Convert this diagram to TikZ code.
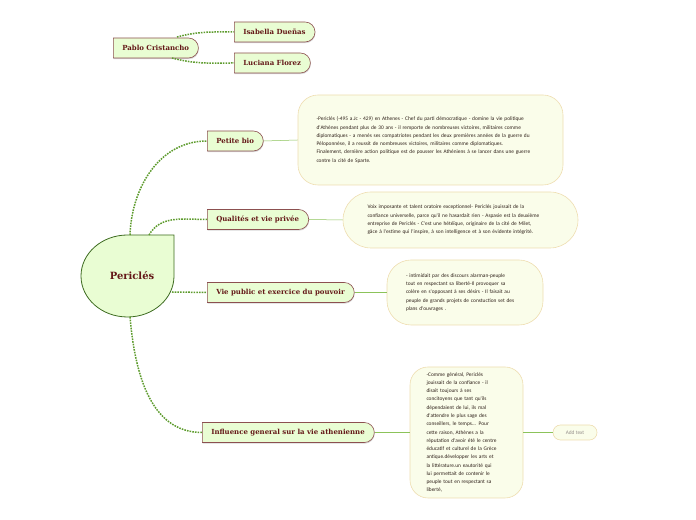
\documentclass[tikz,border=0pt]{standalone}
\usepackage{fontspec}
\setmainfont{DejaVu Serif}
\newfontfamily\notefont{Carlito}
\usetikzlibrary{positioning,shapes.misc,shadows}
\definecolor{topicfill}{HTML}{E9FDD3}
\definecolor{topicline}{HTML}{8C5050}
\definecolor{topictext}{HTML}{641818}
\definecolor{centreline}{HTML}{3D6B20}
\definecolor{notefill}{HTML}{FAFDEA}
\definecolor{noteline}{HTML}{EEDDB0}
\definecolor{notetext}{HTML}{2E2019}
\definecolor{branchgreen}{HTML}{5D9B2D}
\definecolor{leafgreen}{HTML}{8CC35A}
\tikzset{
  topic/.style={shape=rounded rectangle, rounded rectangle west arc=none,
    draw=topicline, fill=topicfill, text=topictext, line width=0.6bp,
    font=\fontsize{7}{8}\selectfont\bfseries, minimum height=20bp,
    inner xsep=9bp, anchor=west,
    drop shadow={shadow xshift=0.4bp, shadow yshift=-1.2bp, fill=black!30}},
  notebox/.style={draw=noteline, fill=notefill, text=notetext, line width=0.6bp,
    font=\notefont\fontsize{5.4}{8.3}\selectfont, align=left},
  branch/.style={draw=branchgreen, line width=1.5bp, dash pattern=on 1.6bp off 1.1bp},
  leaf/.style={draw=leafgreen, line width=0.5bp}
}

\begin{document}
\begin{tikzpicture}[x=1bp,y=1bp]
    \useasboundingbox (0,0) rectangle (696,520);
    % central topic
    \draw[centreline, fill=topicfill, line width=0.8bp]
        (174,285) -- (174,244) arc[start angle=0, end angle=-270, x radius=46.5, y radius=41] -- cycle;
    \node[text=topictext, font=\fontsize{10}{11}\selectfont\bfseries] (pericles) at (132,244) {Periclés};
    \coordinate (per-a) at (130,285);
    \coordinate (per-b) at (149,285);
    \coordinate (per-c) at (172,228);
    \coordinate (per-d) at (130,203);
    % main topics
    \node[topic] (bio) at (207,379) {Petite bio};
    \node[topic] (qual) at (207,300.5) {Qualités et vie privée};
    \node[topic] (vie) at (207,227.5) {Vie public et exercice du pouvoir};
    \node[topic] (infl) at (202,87.5) {Influence general sur la vie athenienne};
    % floating topic
    \node[topic] (pablo) at (113,472) {Pablo Cristancho};
    \node[topic] (isabella) at (234,488) {Isabella Dueñas};
    \node[topic] (luciana) at (234,457) {Luciana Florez};
    \coordinate (pablo-a) at (177,483);
    \coordinate (pablo-b) at (172,462);
    % notes
    \node[notebox, rounded corners=20bp, minimum width=265bp, minimum height=90bp, text width=228bp] (biotext) at (430.5,380)
        {-Periclés (-495 a.Jc - 429) en Athenes - Chef du parti démocratique - domine la vie politique\\
         d'Athènes pendant plus de 30 ans - il remporte de nombreuses victoires, militaires comme\\
         diplomatiques - a menés ses compatriotes pendant les deux premières années de la guerre du\\
         Péloponnèse, il a reussit de nombreuses victoires, militaires comme diplomatiques.\\
         Finalement, dernière action politique est de pousser les Athéniens à se lancer dans une guerre\\
         contre la cité de Sparte.};
    \node[notebox, rounded corners=28bp, minimum width=235bp, minimum height=56bp, text width=186bp] (qualtext) at (460.5,300)
        {Voix imposante et talent oratoire exceptionnel- Periclés jouissait de la\\
         confiance universelle, parce qu'il ne hasardait rien - Aspasie est la deuxième\\
         entreprise de Periclès - C'est une hétéïque, originaire de la cité de Milet,\\
         gâce à l'estime qui l'inspire, à son intelligence et à son évidente intégrité.};
    \node[notebox, rounded corners=24bp, minimum width=156bp, minimum height=65bp, text width=118bp] (vietext) at (465,227.5)
        {- intimidait par des discours alarman-peuple\\
         tout en respectant sa liberté-Il provoquer sa\\
         colère en s'opposant à ses désirs - Il faisait au\\
         peuple de grands projets de constuction set des\\
         plans d'ouvrages .};
    \node[notebox, rounded corners=18bp, minimum width=113bp, minimum height=131bp, text width=80bp] (infltext) at (466.5,87.5)
        {-Comme général, Periclés\\
         jouissait de la confiance - il\\
         disait toujours à ses\\
         concitoyens que tant qu'ils\\
         dépendaient de lui, ils mal\\
         d'attendre le plus sage des\\
         conseillers, le temps... Pour\\
         cette raison, Athènes a la\\
         réputation d'avoir été le centre\\
         éducatif et culturel de la Grèce\\
         antique.développer les arts et\\
         la littérature.un eautorité qui\\
         lui permettait de contenir le\\
         peuple tout en respectant sa\\
         liberté,};
    \node[notebox, rounded corners=7.5bp, minimum width=44bp, minimum height=15bp, text=notetext!50] (addtext) at (575,87.5) {Add text};
    % connectors
    \draw[branch] (per-a) to[out=88,in=180] (bio.west);
    \draw[branch] (per-b) to[out=60,in=180] (qual.west);
    \draw[branch] (per-c) -- (vie.west);
    \draw[branch] (per-d) to[out=-85,in=180] (infl.west);
    \draw[branch] (pablo-a) to[out=15,in=180] (isabella.west);
    \draw[branch] (pablo-b) to[out=-15,in=180] (luciana.west);
    \draw[leaf] (bio.east) -- (biotext.west);
    \draw[leaf] (qual.east) -- (qualtext.west);
    \draw[leaf] (vie.east) -- (vietext.west);
    \draw[leaf] (infl.east) -- (infltext.west);
    \draw[leaf] (infltext.east) -- (addtext.west);
\end{tikzpicture}
\end{document}
